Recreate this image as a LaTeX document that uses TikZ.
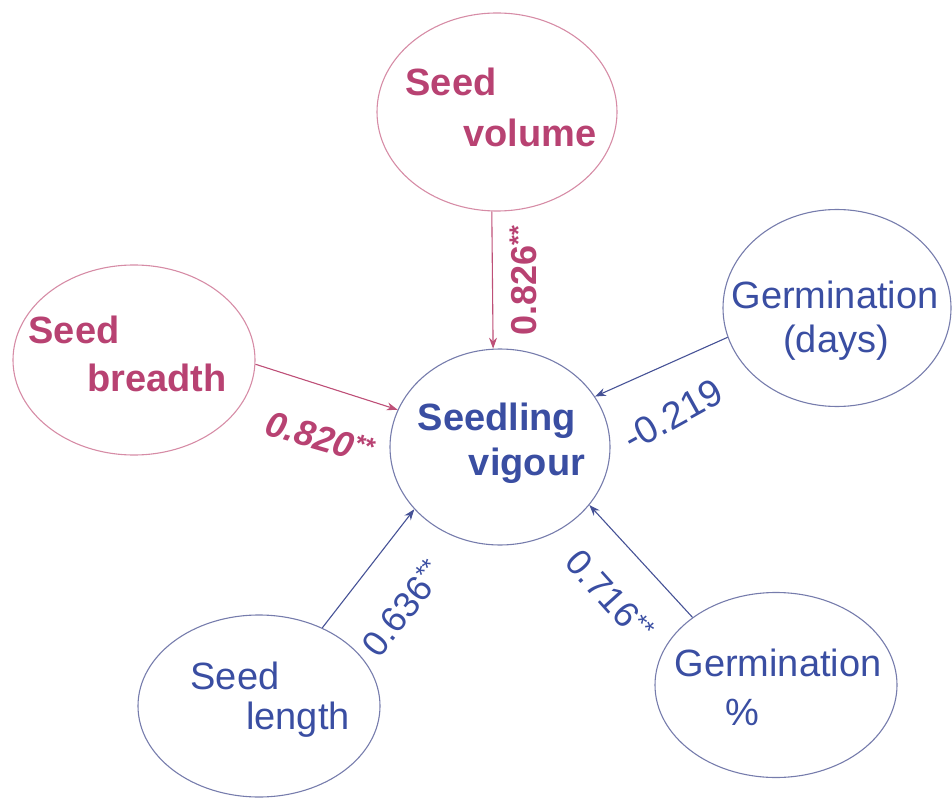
\documentclass[tikz,border=0pt]{standalone}
\usepackage{fontspec}
\setmainfont{Liberation Sans}
\usetikzlibrary{shapes.geometric,arrows.meta}
\definecolor{pinktext}{RGB}{184,66,114}
\definecolor{pinkline}{RGB}{214,140,166}
\definecolor{bluetext}{RGB}{58,78,162}
\definecolor{blueline}{RGB}{118,124,172}
\definecolor{arrowpink}{RGB}{190,80,120}
\definecolor{arrowblue}{RGB}{70,82,150}
\tikzset{
  ell/.style={ellipse, draw, line width=1.1pt, inner sep=0pt},
  pinkell/.style={ell, draw=pinkline},
  blueell/.style={ell, draw=blueline},
  txt/.style={inner sep=0pt, anchor=center, font=\fontsize{38}{44}\selectfont},
  pinkt/.style={txt, text=pinktext, font=\fontsize{38}{44}\selectfont\bfseries},
  bluet/.style={txt, text=bluetext},
  conn/.style={line width=1.1pt, -{Stealth[length=11pt,width=8pt]}},
  pinkconn/.style={conn, draw=arrowpink},
  blueconn/.style={conn, draw=arrowblue},
}
\begin{document}
\begin{tikzpicture}[x=1pt,y=-1pt]
\useasboundingbox (0,0) rectangle (952,799);
% ellipses
\node[pinkell, minimum width=240pt, minimum height=198pt] (vol) at (497,112) {};
\node[pinkell, minimum width=242pt, minimum height=190pt] (bre) at (134,360) {};
\node[blueell, minimum width=228pt, minimum height=197pt] (day) at (837,308) {};
\node[blueell, minimum width=242pt, minimum height=182pt] (len) at (259,706) {};
\node[blueell, minimum width=242pt, minimum height=185pt] (pct) at (776,685) {};
\node[blueell, minimum width=220pt, minimum height=196pt] (sv) at (500,447) {};
% texts
\node[pinkt] (volA) at (451,82) {Seed};
\node[pinkt] (volB) at (530,133) {volume};
\node[pinkt] (breA) at (74,330) {Seed};
\node[pinkt] (breB) at (157,378) {breadth};
\node[bluet] (dayA) at (835,295) {Germination};
\node[bluet] (dayB) at (836,343) {(days)};
\node[bluet] (lenA) at (235,676) {Seed};
\node[bluet] (lenB) at (298,720) {length};
\node[bluet] (pctA) at (778,663) {Germination};
\node[bluet] (pctB) at (742,712) {\%};
\node[txt, text=bluetext, font=\fontsize{38}{44}\selectfont\bfseries] (svA) at (497,421) {Seedling};
\node[txt, text=bluetext, font=\fontsize{38}{44}\selectfont\bfseries] (svB) at (527,466) {vigour};
% connectors
\draw[pinkconn] (vol.267) -- (sv.94);
\draw[pinkconn] (bre.-2) -- (sv.160);
\draw[blueconn] (day.195) -- (sv.28);
\draw[blueconn] (len.51) -- (sv.216);
\draw[blueconn] (pct.141) -- (sv.-33);
% coefficient labels
\node[pinkt, rotate=90, font=\fontsize{36}{40}\selectfont\bfseries] (l1) at (523,280) {0.826\textsuperscript{**}};
\node[pinkt, rotate=-16, font=\fontsize{36}{40}\selectfont\bfseries\itshape] (l2) at (320,437) {0.820\textsuperscript{**}};
\node[bluet, rotate=29] (l3) at (673,415) {-0.219};
\node[bluet, rotate=52, font=\fontsize{36}{40}\selectfont] (l4) at (403,608) {0.636\textsuperscript{**}};
\node[bluet, rotate=-48, font=\fontsize{36}{40}\selectfont] (l5) at (610,596) {0.716\textsuperscript{**}};
\end{tikzpicture}
\end{document}
